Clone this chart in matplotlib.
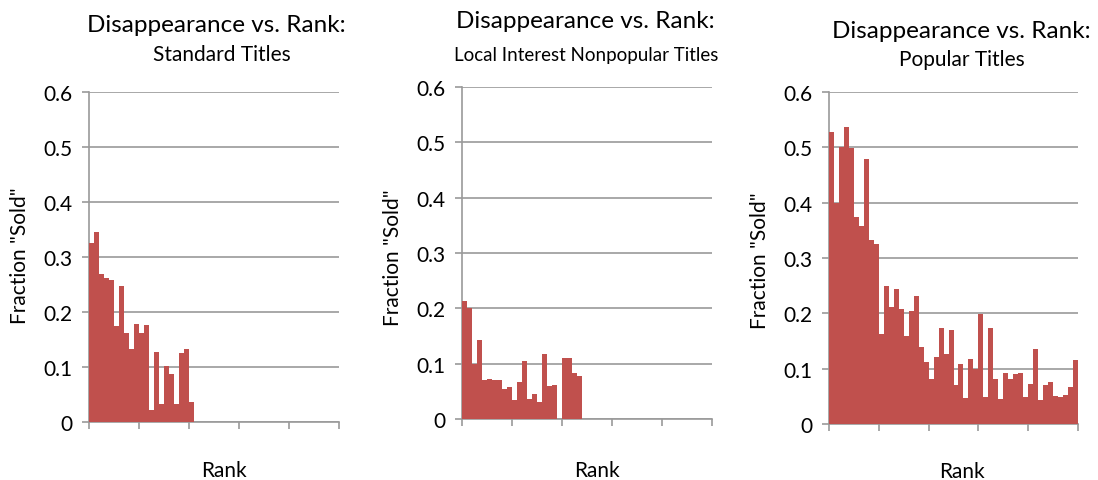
import matplotlib
matplotlib.use("Agg")
import matplotlib.pyplot as plt

plt.rcParams['font.family'] = ['Lato', 'DejaVu Sans']

# fraction "sold" per rank bin
standard = [0.325, 0.346, 0.270, 0.261, 0.259, 0.175, 0.248, 0.161, 0.133, 0.179,
            0.161, 0.177, 0.022, 0.128, 0.032, 0.102, 0.088, 0.033, 0.126, 0.133,
            0.037]
local = [0.214, 0.200, 0.100, 0.143, 0.070, 0.073, 0.070, 0.071, 0.054, 0.057,
         0.034, 0.066, 0.104, 0.036, 0.046, 0.031, 0.118, 0.059, 0.062, 0.0,
         0.111, 0.111, 0.084, 0.077]
popular = [0.528, 0.399, 0.500, 0.536, 0.499, 0.375, 0.357, 0.479, 0.333, 0.326,
           0.163, 0.250, 0.212, 0.244, 0.208, 0.159, 0.204, 0.232, 0.139, 0.112,
           0.081, 0.121, 0.174, 0.127, 0.170, 0.071, 0.109, 0.047, 0.118, 0.100,
           0.199, 0.049, 0.174, 0.081, 0.045, 0.092, 0.081, 0.090, 0.092, 0.049,
           0.072, 0.136, 0.043, 0.071, 0.076, 0.051, 0.049, 0.052, 0.067, 0.116]

subtitles = ["Standard Titles", "Local Interest Nonpopular Titles", "Popular Titles"]
yticks = [0, 0.1, 0.2, 0.3, 0.4, 0.5, 0.6]
n_bins = 50

W, H = 1098, 481
bar_color = "#C0504D"
grid_color = "#9a9a9a"

# panel layout in pixels: left, right, y of 0, y of 0.6
panels = [(89, 339, 423, 93), (462, 712, 420, 88), (829, 1078, 425, 93)]
title_pos = [(216, 25), (585, 22), (961, 32)]
sub_pos = [(222, 55, 15), (586, 55, 13.5), (962, 60, 15)]
ylab_pos = [(20, 256), (393, 258), (760, 261)]
xlab_pos = [(224, 471), (597, 471), (962, 472)]

fig = plt.figure(figsize=(W / 100, H / 100), dpi=100)

for i, values in enumerate([standard, local, popular]):
    x0, x1, y0, y1 = panels[i]
    ax = fig.add_axes([x0 / W, (H - y0) / H, (x1 - x0) / W, (y0 - y1) / H])
    ax.bar([k + 0.5 for k in range(len(values))], values, width=1.0,
           color=bar_color, linewidth=0, zorder=3)
    ax.set_xlim(0, n_bins)
    ax.set_ylim(0, 0.6)
    ax.set_yticks(yticks)
    ax.set_yticklabels(["0" if t == 0 else f"{t:.1f}" for t in yticks])
    ax.set_xticks(range(0, n_bins + 1, 10))
    ax.set_xticklabels([])
    ax.grid(axis="y", color=grid_color, linewidth=1.2, zorder=0)
    for side in ["top", "right"]:
        ax.spines[side].set_visible(False)
    for side in ["left", "bottom"]:
        ax.spines[side].set_color(grid_color)
        ax.spines[side].set_linewidth(1.2)
    ax.tick_params(axis="both", color=grid_color, width=1.2, length=5,
                   labelsize=15, pad=7)

    tx, ty = title_pos[i]
    fig.text(tx / W, 1 - ty / H, "Disappearance vs. Rank:", fontsize=17.5,
             ha="center", va="center")
    sx, sy, fs = sub_pos[i]
    fig.text(sx / W, 1 - sy / H, subtitles[i], fontsize=fs,
             ha="center", va="center")
    lx, ly = ylab_pos[i]
    fig.text(lx / W, 1 - ly / H, 'Fraction "Sold"', fontsize=15, rotation=90,
             ha="center", va="center")
    rx, ry = xlab_pos[i]
    fig.text(rx / W, 1 - ry / H, "Rank", fontsize=15, ha="center", va="center")

fig.savefig("out.png", dpi=100)
